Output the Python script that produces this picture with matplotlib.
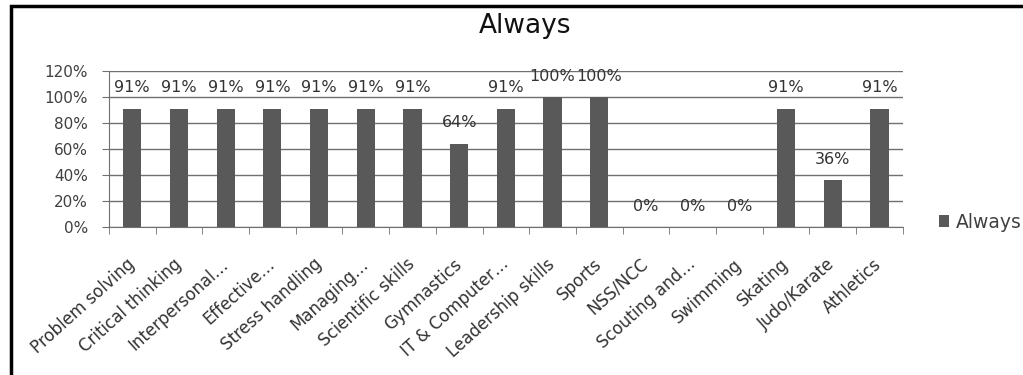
import matplotlib.pyplot as plt
from matplotlib.patches import Rectangle
from matplotlib.ticker import FixedLocator, PercentFormatter

categories = ["Problem solving", "Critical thinking", "Interpersonal…", "Effective…",
              "Stress handling", "Managing…", "Scientific skills", "Gymnastics",
              "IT & Computer…", "Leadership skills", "Sports", "NSS/NCC",
              "Scouting and…", "Swimming", "Skating", "Judo/Karate", "Athletics"]
values = [91, 91, 91, 91, 91, 91, 91, 64, 91, 100, 100, 0, 0, 0, 91, 36, 91]
series_name = "Always"

plt.rcParams['font.family'] = ['DejaVu Sans']

fig = plt.figure(figsize=(10.23, 3.75), dpi=100)
ax = fig.add_axes([0.1065, 0.3947, 0.776, 0.416])

n = len(values)
x = list(range(n))
ax.bar(x, values, width=0.39, color="#595959", zorder=3, label=series_name)

# value labels sit a fixed distance above each bar
for xi, v in zip(x, values):
    ax.annotate(f"{v}%", (xi, v), xytext=(0, 15), textcoords="offset points",
                ha="center", va="center", fontsize=11.5, color="#333333")

ax.set_xlim(-0.5, n - 0.5)
ax.set_ylim(0, 120)
ax.set_yticks(range(0, 121, 20))
ax.yaxis.set_major_formatter(PercentFormatter(decimals=0))
ax.grid(axis="y", color="#707070", linewidth=1.0, zorder=0)

ax.set_xticks(x)
ax.set_xticklabels(categories, rotation=42, ha="right", va="center",
                   rotation_mode="anchor", fontsize=12, color="#333333")
ax.tick_params(axis="x", which="major", length=0, pad=25)
ax.xaxis.set_minor_locator(FixedLocator([i - 0.5 for i in range(n + 1)]))
ax.tick_params(axis="x", which="minor", length=5, color="#707070")
ax.tick_params(axis="y", labelsize=11, labelcolor="#404040", length=5,
               color="#707070", pad=10)

for side in ("top", "right"):
    ax.spines[side].set_visible(False)
ax.spines["left"].set_color("#707070")
ax.spines["bottom"].set_color("#707070")

fig.text(0.513, 0.912, series_name, ha="center", va="baseline",
         fontsize=19, color="#111111")

ax.legend(loc="center left", bbox_to_anchor=(0.918, 0.408), bbox_transform=fig.transFigure,
          frameon=False, fontsize=13.5, handlelength=0.55, handleheight=0.55,
          handletextpad=0.35, labelcolor="#404040", borderpad=0, borderaxespad=0)

# outer frame around the chart
fig.patches.append(Rectangle((0.0105, -0.02), 1.02, 1.004, transform=fig.transFigure,
                             fill=False, edgecolor="black", linewidth=2.5))

fig.savefig("out.png", dpi=100)
